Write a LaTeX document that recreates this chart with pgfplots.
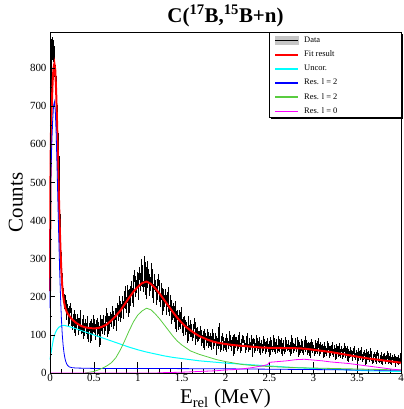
\documentclass[border=0pt]{standalone}
\usepackage{pgfplots}
\pgfplotsset{compat=1.18}
\usepackage{pgfplotstable}
\usepackage{fontspec}
\setmainfont{Liberation Serif}
\definecolor{rootgreen}{rgb}{0.35,0.8,0.25}
\definecolor{rootcyan}{rgb}{0,1,1}
\definecolor{rootmagenta}{rgb}{1,0,1}
\definecolor{rootblue}{rgb}{0,0,1}
\definecolor{rootred}{rgb}{1,0,0}

% counts per 0.01 MeV bin (bin centres 0.005, 0.015, ..., 3.995)
\pgfplotstableread[row sep=\\, header=false]{
560\\848\\852\\846\\830\\805\\780\\702\\628\\568\\462\\398\\300\\262\\220\\208\\182\\190\\152\\168\\
159\\131\\162\\171\\136\\125\\139\\154\\107\\142\\
127\\143\\111\\132\\153\\113\\117\\140\\100\\120\\
130\\112\\139\\91\\121\\125\\87\\131\\109\\141\\
116\\97\\127\\133\\105\\122\\76\\140\\120\\112\\
140\\121\\111\\137\\158\\105\\138\\122\\148\\131\\
143\\163\\126\\140\\159\\122\\171\\166\\149\\189\\
147\\169\\188\\153\\184\\214\\170\\186\\216\\159\\
206\\189\\227\\208\\186\\241\\255\\213\\230\\250\\
207\\262\\247\\230\\282\\241\\227\\290\\273\\208\\
278\\238\\258\\218\\236\\272\\220\\199\\232\\244\\
227\\193\\232\\243\\202\\188\\206\\222\\165\\205\\
187\\205\\164\\188\\212\\161\\165\\190\\140\\162\\
170\\146\\176\\118\\150\\152\\123\\153\\126\\160\\
130\\108\\136\\139\\109\\124\\87\\138\\116\\105\\
128\\106\\94\\117\\133\\82\\108\\90\\110\\94\\
99\\113\\80\\89\\100\\68\\104\\96\\81\\106\\
73\\87\\96\\69\\87\\104\\72\\81\\96\\56\\
84\\72\\120\\79\\63\\88\\95\\66\\74\\83\\
63\\92\\83\\72\\100\\76\\65\\85\\89\\53\\
93\\73\\85\\66\\78\\98\\70\\60\\80\\89\\
87\\79\\59\\69\\96\\76\\62\\82\\70\\89\\
50\\84\\80\\60\\70\\91\\65\\75\\85\\55\\
79\\69\\61\\87\\80\\57\\71\\84\\64\\75\\
50\\85\\70\\63\\91\\74\\57\\81\\72\\60\\
88\\64\\77\\82\\52\\77\\66\\57\\85\\73\\
67\\78\\62\\74\\53\\91\\78\\60\\67\\83\\
64\\71\\85\\48\\73\\60\\80\\76\\55\\68\\
87\\62\\78\\55\\74\\70\\47\\81\\60\\74\\
66\\51\\79\\62\\57\\83\\68\\53\\73\\62\\
69\\45\\74\\63\\52\\57\\76\\70\\47\\63\\
61\\73\\48\\55\\65\\40\\68\\63\\50\\71\\
46\\56\\63\\43\\57\\71\\46\\52\\64\\34\\
56\\45\\61\\51\\37\\57\\63\\41\\46\\54\\
34\\57\\48\\40\\60\\43\\35\\49\\52\\26\\
55\\40\\50\\35\\43\\57\\38\\29\\44\\49\\
44\\30\\47\\53\\36\\32\\40\\48\\25\\44\\
37\\45\\30\\40\\51\\30\\33\\45\\25\\35\\
41\\31\\44\\20\\36\\37\\25\\40\\28\\45\\
}\datatab

\pgfplotsset{
  rootframe/.style={
    at={(0,0)}, anchor=south west, scale only axis,
    width=351bp, height=341bp,
    xmin=0, xmax=4, ymin=0, ymax=895,
    axis line style={line width=0.8bp},
    tick align=inside, xtick pos=left, ytick pos=left,
    every tick/.style={black, line width=0.6bp},
    /pgf/number format/assume math mode=true,
    tick label style={font=\fontsize{11}{13}\selectfont},
    label style={font=\fontsize{21}{24}\selectfont},
  },
}

\begin{document}
\begin{tikzpicture}
\useasboundingbox (-50bp,-36bp) rectangle (354bp,373bp);
% legend frame with shadow (drawn first, legend text/images come on top)
\begin{axis}[rootframe, clip=false, hide axis]
\addplot[draw=none, forget plot] coordinates {(0,0)};
\fill[black] (rel axis cs:0.6296,0.7449) rectangle (rel axis cs:1.0057,0.9941);
\draw[black, line width=0.6bp, fill=white] (rel axis cs:0.6239,0.7507) rectangle (rel axis cs:1,1);
\end{axis}
% main axis: curves, x ticks, x label, title, legend
\begin{axis}[
  rootframe, clip=false,
  xtick={0,0.5,1,1.5,2,2.5,3,3.5,4},
  xticklabels={0,0.5,1,1.5,2,2.5,3,3.5,4},
  ytick=\empty,
  minor x tick num=3,
  major tick length=11bp, minor tick length=4bp,
  xticklabel style={inner sep=1.5bp},
  title={\textbf{C(\textsuperscript{17}B,\textsuperscript{15}B+n)}},
  title style={font=\fontsize{21}{24}\selectfont, at={(rel axis cs:0.5,1.0117)}, anchor=base},
  xlabel={E\textsubscript{rel} (MeV)},
  xlabel style={at={(rel axis cs:0.5,-0.0909)}, anchor=base},
  legend cell align=left,
  legend style={at={(rel axis cs:0.6382,0.997)}, anchor=north west,
    draw=none, fill=none, inner sep=0pt, row sep=0pt, column sep=5bp,
    font=\fontsize{8.5}{10}\selectfont,
    nodes={text height=6bp, text depth=2bp, inner ysep=3.1bp, inner xsep=0pt}},
]
% data
\addplot[black, line width=0.5bp, const plot mark mid,
  legend image code/.code={\fill[gray!45] (0bp,-4bp) rectangle (23bp,4bp); \draw[black, line width=1.4bp] (0bp,0bp) -- (23bp,0bp);},
  error bars/.cd, y dir=both, y explicit, error bar style={black, line width=0.8bp}, error mark=none]
  table[x expr=\coordindex*0.01+0.005, y index=0, y error expr=sqrt(\thisrowno{0})] {\datatab};
\addlegendentry{Data}

% fit result
\addplot[rootred, line width=2bp,
  legend image code/.code={\draw[rootred, line width=2bp] (0bp,0bp) -- (23bp,0bp);}] coordinates {
(0,215) (0.005,500) (0.01,620) (0.02,700) (0.03,765) (0.04,800) (0.05,812) (0.06,795) (0.07,740) (0.08,660)
(0.09,570) (0.10,475) (0.11,390) (0.12,320) (0.13,265) (0.14,228) (0.15,203) (0.16,186) (0.17,175) (0.18,167)
(0.19,161) (0.20,156) (0.25,141) (0.30,131) (0.35,124) (0.40,120) (0.45,118) (0.50,117) (0.55,118) (0.60,122)
(0.65,128) (0.70,138) (0.75,150) (0.80,163) (0.85,180) (0.90,197) (0.95,213) (1.00,226) (1.05,236) (1.10,240)
(1.15,234) (1.20,222) (1.25,208) (1.30,192) (1.35,176) (1.40,160) (1.45,145) (1.50,132) (1.55,121) (1.60,112)
(1.65,104) (1.70,97) (1.75,92) (1.80,87) (1.85,83) (1.90,80) (1.95,78) (2.00,76) (2.10,73) (2.20,71)
(2.30,69) (2.40,67) (2.50,66) (2.60,66) (2.70,65) (2.80,65) (2.90,64) (3.00,61) (3.10,58) (3.20,55)
(3.30,51) (3.40,47) (3.50,43) (3.60,39) (3.70,36) (3.80,33) (3.90,30) (4.00,27)
};
\addlegendentry{Fit result}

% uncorrelated
\addplot[rootcyan, line width=1bp,
  legend image code/.code={\draw[rootcyan, line width=1.6bp] (0bp,0bp) -- (23bp,0bp);}] coordinates {
(0,35) (0.02,65) (0.04,90) (0.06,105) (0.08,114) (0.10,120) (0.13,124) (0.16,125) (0.2,123) (0.3,116)
(0.4,108) (0.5,100) (0.6,92) (0.7,84) (0.8,76) (0.9,68) (1.0,61) (1.1,55) (1.2,50) (1.3,45)
(1.4,41) (1.5,38) (1.6,35) (1.7,32) (1.8,30) (1.9,28) (2.0,26) (2.2,23) (2.4,20) (2.6,17)
(2.8,14) (3.0,12) (3.2,10) (3.4,8) (3.6,6) (3.8,5) (4.0,4)
};
\addlegendentry{Uncor.}

% resonance l=2 (low)
\addplot[rootblue, line width=0.8bp,
  legend image code/.code={\draw[rootblue, line width=1.4bp] (0bp,0bp) -- (23bp,0bp);}] coordinates {
(0,170) (0.005,400) (0.01,520) (0.02,600) (0.03,660) (0.04,700) (0.05,712) (0.06,690) (0.07,630) (0.08,545)
(0.09,450) (0.10,355) (0.11,270) (0.12,200) (0.13,142) (0.14,100) (0.15,72) (0.16,52) (0.17,39) (0.18,30)
(0.19,24) (0.20,20) (0.22,16) (0.25,14) (0.3,13) (0.5,12) (1.0,12) (1.5,11.5) (2.0,11) (2.5,10)
(3.0,9) (3.5,8) (4.0,7)
};
\addlegendentry{Res. l = 2}

% resonance l=2 (high)
\addplot[rootgreen, line width=0.8bp,
  legend image code/.code={\draw[rootgreen, line width=1.4bp] (0bp,0bp) -- (23bp,0bp);}] coordinates {
(0.40,0) (0.45,2) (0.50,4) (0.55,8) (0.60,13) (0.65,19) (0.70,27) (0.75,40) (0.80,60) (0.85,84)
(0.90,110) (0.95,134) (1.00,152) (1.05,163) (1.10,170) (1.15,166) (1.20,155) (1.25,142) (1.30,127) (1.35,112)
(1.40,97) (1.45,84) (1.50,74) (1.55,66) (1.60,58) (1.70,49) (1.80,42) (1.90,35) (2.00,30) (2.10,26)
(2.20,22) (2.30,20) (2.40,18) (2.50,17) (2.60,16) (2.80,14) (3.00,13) (3.20,12) (3.40,11) (3.60,10)
(3.80,9) (4.00,8)
};
\addlegendentry{Res. l = 2}

% resonance l=0
\addplot[rootmagenta, line width=0.8bp,
  legend image code/.code={\draw[rootmagenta, line width=1.4bp] (0bp,0bp) -- (23bp,0bp);}] coordinates {
(0,0) (1.2,0) (1.3,1) (1.5,2) (1.7,4) (1.9,6) (2.0,8) (2.1,9) (2.2,11) (2.3,14)
(2.4,18) (2.48,22) (2.5,28) (2.6,30) (2.7,32) (2.8,35) (2.9,36) (3.0,34) (3.1,32) (3.2,29)
(3.3,27) (3.4,25) (3.5,22) (3.6,19) (3.7,16) (3.8,13) (3.9,10) (4.0,8)
};
\addlegendentry{Res. l = 0}
\end{axis}
% overlay axis: y ticks and y label
\begin{axis}[
  rootframe,
  xtick=\empty,
  ytick={0,100,200,300,400,500,600,700,800},
  minor y tick num=1,
  major tick length=5bp, minor tick length=2.5bp,
  ylabel={Counts},
  ylabel style={at={(rel axis cs:-0.0778,0.5)}, anchor=base},
]
\end{axis}
\end{tikzpicture}
\end{document}
